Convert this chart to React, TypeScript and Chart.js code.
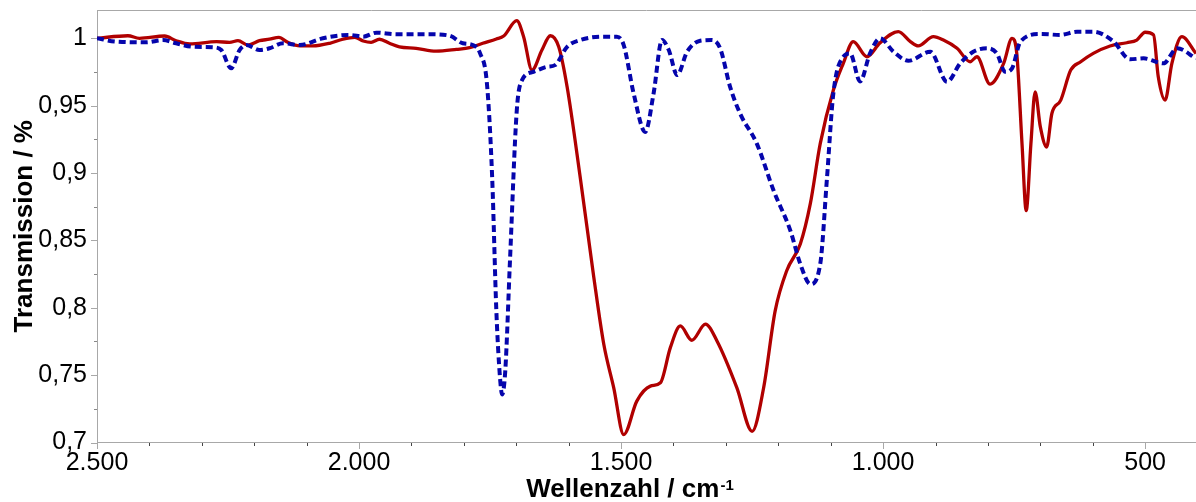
import React, { useEffect, useRef } from 'react';
import { Chart, registerables } from 'chart.js';

Chart.register(...registerables);

// IR spectra: wavenumber (cm^-1) and transmission
const redWavenumbers = [
  2500, 2441, 2419, 2371, 2349, 2323, 2272, 2247, 2231, 2212, 2190, 2171, 2153, 2136, 2113, 2088,
  2056, 2031, 2008, 1992, 1977, 1961, 1942, 1923, 1891, 1853, 1814, 1789, 1764, 1738, 1724, 1699,
  1686, 1670, 1651, 1635, 1619, 1603, 1578, 1552, 1533, 1514, 1495, 1470, 1444, 1425, 1406, 1387,
  1365, 1339, 1317, 1279, 1250, 1228, 1206, 1184, 1158, 1139, 1120, 1095, 1076, 1057, 1031, 1006,
  971, 948, 933, 904, 885, 859, 834, 821, 796, 770, 754, 745, 735, 727, 718, 710,
  700, 688, 678, 661, 642, 623, 599, 567, 535, 516, 500, 484, 475, 462, 449, 430, 403,
];
const redTransmission = [
  1.0, 1.0019, 1.0, 1.0017, 0.9982, 0.9958, 0.9975, 0.997, 0.9982, 0.995, 0.9982, 0.9993, 1.0007, 0.997, 0.9943, 0.9943,
  0.9963, 0.9993, 1.0007, 0.998, 0.997, 0.9993, 0.9963, 0.9937, 0.9926, 0.9905, 0.9918, 0.993, 0.9963, 0.9995, 1.0017, 1.0131,
  1.0012, 0.9764, 0.9913, 1.0019, 0.9937, 0.964, 0.8969, 0.8225, 0.7729, 0.7406, 0.7059, 0.7307, 0.7418, 0.7443, 0.7704, 0.7865,
  0.7759, 0.7878, 0.7754, 0.7406, 0.7083, 0.7406, 0.7977, 0.8275, 0.8474, 0.8771, 0.9218, 0.9615, 0.9814, 0.9975, 0.9863, 0.9966,
  1.0049, 0.9975, 0.9943, 1.0012, 0.9987, 0.9926, 0.9826, 0.9863, 0.966, 0.9814, 1.0, 0.9888, 0.9218, 0.8722, 0.9218, 0.9602,
  0.9342, 0.9193, 0.9442, 0.9541, 0.9764, 0.9826, 0.9888, 0.9943, 0.9967, 0.9987, 1.0045, 1.0025, 0.9714, 0.9541, 0.9814, 1.0012, 0.9888,
];

const blueWavenumbers = [
  2500, 2463, 2406, 2374, 2349, 2317, 2279, 2263, 2244, 2228, 2215, 2190, 2171, 2145, 2113, 2069,
  2018, 1992, 1967, 1929, 1865, 1827, 1802, 1783, 1769, 1756, 1746, 1738, 1731, 1727, 1721, 1712,
  1699, 1689, 1667, 1641, 1626, 1603, 1578, 1534, 1508, 1495, 1476, 1454, 1438, 1422, 1409, 1393,
  1374, 1349, 1327, 1311, 1292, 1273, 1241, 1209, 1177, 1158, 1139, 1120, 1107, 1095, 1076, 1063,
  1044, 1025, 1006, 980, 952, 910, 878, 853, 828, 802, 783, 767, 754, 738, 700, 662,
  630, 599, 560, 529, 503, 465, 439, 403,
];
const blueTransmission = [
  1.0, 0.9975, 0.997, 0.9987, 0.9963, 0.9937, 0.9933, 0.9913, 0.9777, 0.9913, 0.995, 0.9913, 0.9926, 0.9963, 0.995, 1.0,
  1.0025, 1.0012, 1.0042, 1.003, 1.003, 1.0019, 0.9963, 0.995, 0.9888, 0.9665, 0.8969, 0.7977, 0.748, 0.7357, 0.753, 0.8349,
  0.9466, 0.969, 0.9751, 0.9789, 0.9801, 0.9937, 0.9987, 1.0012, 1.0012, 0.995, 0.959, 0.9305, 0.959, 0.9987, 0.9913, 0.9727,
  0.99, 0.9982, 0.9987, 0.9926, 0.964, 0.9442, 0.9218, 0.887, 0.8573, 0.8325, 0.8176, 0.8325, 0.8969, 0.959, 0.9863, 0.9888,
  0.968, 0.9888, 1.0, 0.99, 0.9833, 0.99, 0.9677, 0.9814, 0.99, 0.9926, 0.9888, 0.9751, 0.9777, 0.9975, 1.0032, 1.0025,
  1.0049, 1.0049, 0.9975, 0.9844, 0.9851, 0.9814, 0.9926, 0.9851,
];

const xTickValues = [2500, 2000, 1500, 1000, 500];
const xTickLabels = ['2.500', '2.000', '1.500', '1.000', '500'];
const xMinorTicks = [2400, 2300, 2200, 2100, 1900, 1800, 1700, 1600, 1400, 1300, 1200, 1100, 900, 800, 700, 600];
const yTickValues = [0.7, 0.75, 0.8, 0.85, 0.9, 0.95, 1];
const yTickLabels = ['0,7', '0,75', '0,8', '0,85', '0,9', '0,95', '1'];
const yMinorTicks = [0.725, 0.775, 0.825, 0.875, 0.925, 0.975];

const xTitle = 'Wellenzahl / cm';
const xTitleSup = '-1';
const yTitle = 'Transmission / %';

const FONT = "'Liberation Sans', Arial, sans-serif";
const AXIS_GRAY = '#a8a8a8';

const toPoints = (xs: number[], ys: number[]) => xs.map((x, i) => ({ x, y: ys[i] }));

const framePlugin = {
  id: 'frameAndTitles',
  afterDraw(chart: any) {
    const { ctx, chartArea: a, scales } = chart;
    const xs = scales.x;
    const ys = scales.y;
    ctx.save();
    ctx.lineWidth = 1;

    // top frame line
    ctx.strokeStyle = AXIS_GRAY;
    ctx.beginPath();
    ctx.moveTo(a.left, Math.round(a.top) + 0.5);
    ctx.lineTo(a.right, Math.round(a.top) + 0.5);
    ctx.stroke();

    const b = Math.round(a.bottom);
    const l = Math.round(a.left);
    const xTick = (v: number, len: number, color: string) => {
      const px = Math.round(xs.getPixelForValue(v)) + 0.5;
      ctx.strokeStyle = color;
      ctx.beginPath();
      ctx.moveTo(px, b);
      ctx.lineTo(px, b + len);
      ctx.stroke();
    };
    const yTick = (v: number, len: number, color: string) => {
      const py = Math.round(ys.getPixelForValue(v)) + 0.5;
      ctx.strokeStyle = color;
      ctx.beginPath();
      ctx.moveTo(l - len, py);
      ctx.lineTo(l, py);
      ctx.stroke();
    };
    xTickValues.forEach((v) => xTick(v, 6, AXIS_GRAY));
    xMinorTicks.forEach((v) => xTick(v, 3, '#444'));
    yTickValues.forEach((v) => yTick(v, 6, AXIS_GRAY));
    yMinorTicks.forEach((v) => yTick(v, 3, '#888'));

    // axis titles
    ctx.fillStyle = '#000';
    ctx.textBaseline = 'alphabetic';
    ctx.font = `bold 26px ${FONT}`;
    const mainW = ctx.measureText(xTitle).width;
    ctx.font = `bold 15px ${FONT}`;
    const supW = ctx.measureText(xTitleSup).width;
    const cx = 630;
    const startX = cx - (mainW + supW + 1) / 2;
    ctx.font = `bold 26px ${FONT}`;
    ctx.textAlign = 'left';
    ctx.fillText(xTitle, startX, 497);
    ctx.font = `bold 15px ${FONT}`;
    ctx.fillText(xTitleSup, startX + mainW + 1, 490);

    ctx.save();
    ctx.translate(32, (a.top + a.bottom) / 2);
    ctx.rotate(-Math.PI / 2);
    ctx.font = `bold 26px ${FONT}`;
    ctx.textAlign = 'center';
    ctx.fillText(yTitle, 0, 0);
    ctx.restore();

    ctx.restore();
  },
};

export default function App() {
  const canvasRef = useRef<HTMLCanvasElement | null>(null);

  useEffect(() => {
    const canvas = canvasRef.current;
    if (!canvas) return;
    const chart = new Chart(canvas, {
      type: 'line',
      data: {
        datasets: [
          {
            label: 'blue',
            data: toPoints(blueWavenumbers, blueTransmission),
            borderColor: '#0505ac',
            borderWidth: 4,
            borderDash: [7, 4],
            pointRadius: 0,
            fill: false,
            cubicInterpolationMode: 'monotone',
          },
          {
            label: 'red',
            data: toPoints(redWavenumbers, redTransmission),
            borderColor: '#b00000',
            borderWidth: 3.3,
            pointRadius: 0,
            fill: false,
            cubicInterpolationMode: 'monotone',
          },
        ],
      },
      options: {
        animation: false,
        responsive: false,
        maintainAspectRatio: false,
        layout: { padding: { top: 10, left: 0, right: 0, bottom: 0 } },
        plugins: { legend: { display: false }, tooltip: { enabled: false } },
        scales: {
          x: {
            type: 'linear',
            reverse: true,
            min: 403,
            max: 2500,
            afterBuildTicks: (s: any) => {
              s.ticks = xTickValues.map((value) => ({ value }));
            },
            afterFit: (s: any) => {
              s.height = 59.5;
              s.paddingLeft = 0;
              s.paddingRight = 0;
            },
            grid: {
              display: true,
              drawOnChartArea: false,
              drawTicks: true,
              tickLength: 6,
              color: 'rgba(0,0,0,0)',
            },
            border: { display: true, color: AXIS_GRAY, width: 1 },
            ticks: {
              autoSkip: false,
              maxRotation: 0,
              padding: 0,
              color: '#000',
              font: { family: FONT, size: 25 },
              callback: (value: any) => {
                const i = xTickValues.indexOf(Number(value));
                return i >= 0 ? xTickLabels[i] : '';
              },
            },
          },
          y: {
            type: 'linear',
            min: 0.7,
            max: 1.021,
            afterBuildTicks: (s: any) => {
              s.ticks = yTickValues.map((value) => ({ value }));
            },
            afterFit: (s: any) => {
              s.width = 97;
              s.paddingTop = 0;
              s.paddingBottom = 0;
            },
            grid: {
              display: true,
              drawOnChartArea: false,
              drawTicks: true,
              tickLength: 6,
              color: 'rgba(0,0,0,0)',
            },
            border: { display: true, color: AXIS_GRAY, width: 1 },
            ticks: {
              autoSkip: false,
              padding: 4,
              color: '#000',
              font: { family: FONT, size: 25 },
              callback: (value: any) => {
                const i = yTickValues.findIndex((v) => Math.abs(v - Number(value)) < 1e-6);
                return i >= 0 ? yTickLabels[i] : '';
              },
            },
          },
        },
      },
      plugins: [framePlugin],
    } as any);
    return () => chart.destroy();
  }, []);

  return (
    <div style={{ position: 'absolute', left: 0, top: 0, width: 1196, height: 502, background: '#fff' }}>
      <canvas ref={canvasRef} width={1196} height={502} style={{ display: 'block', width: 1196, height: 502 }} />
    </div>
  );
}
